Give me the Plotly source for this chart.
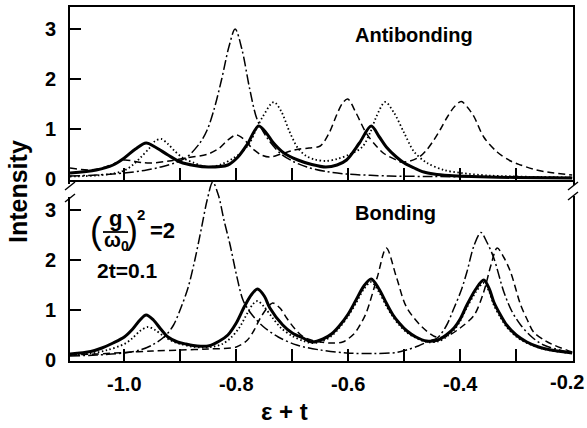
import plotly.graph_objects as go

# ---------------- data ----------------
# Antibonding panel (top)
ab_solid_x = [-1.097, -1.05, -1.02, -1.0, -0.98, -0.961, -0.945, -0.922, -0.9, -0.875, -0.85, -0.815, -0.797, -0.78,
              -0.76, -0.745, -0.735, -0.715, -0.69, -0.665, -0.64, -0.62, -0.603, -0.58, -0.559, -0.545, -0.532,
              -0.514, -0.5, -0.482, -0.465, -0.447, -0.42, -0.38, -0.3, -0.2]
ab_solid_y = [0.12, 0.18, 0.28, 0.42, 0.60, 0.72, 0.64, 0.48, 0.34, 0.27, 0.24, 0.28, 0.44, 0.70,
              1.06, 0.90, 0.74, 0.52, 0.38, 0.29, 0.24, 0.28, 0.38, 0.72, 1.06, 0.85, 0.64,
              0.44, 0.32, 0.22, 0.14, 0.10, 0.07, 0.05, 0.03, 0.02]

ab_dashed_x = [-1.097, -1.064, -1.04, -1.015, -1.0, -0.985, -0.97, -0.952, -0.92, -0.89, -0.85, -0.83, -0.815, -0.8,
               -0.787, -0.772, -0.755, -0.74, -0.72, -0.7, -0.687, -0.67, -0.65, -0.635, -0.62, -0.61, -0.601,
               -0.586, -0.568, -0.55, -0.535, -0.514, -0.505, -0.49, -0.473, -0.46, -0.447, -0.435, -0.423, -0.41,
               -0.398, -0.386, -0.375, -0.358, -0.334, -0.31, -0.292, -0.27, -0.245, -0.2]
ab_dashed_y = [0.22, 0.18, 0.22, 0.32, 0.38, 0.36, 0.33, 0.32, 0.36, 0.42, 0.50, 0.62, 0.78, 0.88,
               0.80, 0.62, 0.48, 0.44, 0.50, 0.57, 0.60, 0.62, 0.66, 0.90, 1.30, 1.52, 1.60,
               1.32, 0.92, 0.66, 0.50, 0.38, 0.34, 0.36, 0.44, 0.58, 0.78, 1.00, 1.24, 1.45,
               1.55, 1.42, 1.24, 0.84, 0.54, 0.36, 0.28, 0.20, 0.14, 0.08]

ab_dotted_x = [-1.097, -1.05, -1.02, -1.0, -0.985, -0.97, -0.955, -0.945, -0.934, -0.922, -0.91, -0.895, -0.875,
               -0.86, -0.845, -0.825, -0.805, -0.79, -0.776, -0.765, -0.753, -0.733, -0.72, -0.705, -0.69, -0.675,
               -0.66, -0.64, -0.62, -0.6, -0.575, -0.56, -0.55, -0.534, -0.518, -0.5, -0.482, -0.459, -0.429,
               -0.398, -0.35, -0.3, -0.2]
ab_dotted_y = [0.05, 0.07, 0.11, 0.17, 0.28, 0.44, 0.62, 0.76, 0.80, 0.70, 0.56, 0.42, 0.32,
               0.26, 0.24, 0.30, 0.42, 0.54, 0.72, 0.98, 1.24, 1.54, 1.36, 0.95, 0.62, 0.46,
               0.39, 0.36, 0.40, 0.48, 0.64, 0.95, 1.24, 1.54, 1.32, 0.92, 0.54, 0.32, 0.18,
               0.12, 0.07, 0.05, 0.03]

ab_dashdot_x = [-1.097, -1.05, -1.0, -0.96, -0.935, -0.91, -0.888, -0.865, -0.852, -0.84, -0.826, -0.813, -0.802,
                -0.79, -0.776, -0.763, -0.746, -0.722, -0.7, -0.674, -0.64, -0.603, -0.527, -0.45, -0.35, -0.2]
ab_dashdot_y = [0.06, 0.08, 0.12, 0.18, 0.24, 0.32, 0.44, 0.72, 0.98, 1.38, 2.0, 2.65, 3.0,
                2.6, 1.8, 1.2, 0.84, 0.52, 0.36, 0.24, 0.15, 0.10, 0.06, 0.05, 0.04, 0.03]

# Bonding panel (bottom)
bd_solid_x = [-1.097, -1.06, -1.04, -1.02, -1.0, -0.985, -0.972, -0.961, -0.948, -0.935, -0.922, -0.905, -0.89,
              -0.87, -0.85, -0.83, -0.815, -0.8, -0.785, -0.772, -0.762, -0.75, -0.74, -0.717, -0.7, -0.681,
              -0.665, -0.645, -0.63, -0.616, -0.6, -0.586, -0.572, -0.559, -0.545, -0.532, -0.52, -0.509, -0.495,
              -0.479, -0.46, -0.44, -0.425, -0.411, -0.4, -0.388, -0.372, -0.358, -0.348, -0.34, -0.328, -0.317,
              -0.3, -0.281, -0.26, -0.238, -0.2]
bd_solid_y = [0.12, 0.17, 0.24, 0.34, 0.46, 0.62, 0.80, 0.90, 0.80, 0.62, 0.46, 0.36, 0.32,
              0.28, 0.28, 0.38, 0.50, 0.74, 1.08, 1.32, 1.42, 1.28, 1.04, 0.70, 0.54, 0.44,
              0.36, 0.42, 0.52, 0.68, 0.92, 1.20, 1.48, 1.62, 1.42, 1.14, 0.90, 0.74, 0.58,
              0.46, 0.38, 0.40, 0.50, 0.64, 0.82, 1.10, 1.42, 1.60, 1.42, 1.16, 0.90, 0.70,
              0.50, 0.36, 0.26, 0.20, 0.14]

bd_dotted_x = [-1.097, -1.06, -1.03, -1.0, -0.985, -0.972, -0.958, -0.945, -0.93, -0.915, -0.9, -0.88, -0.86,
               -0.84, -0.825, -0.81, -0.795, -0.78, -0.77, -0.762, -0.75, -0.735, -0.72, -0.7, -0.68, -0.665,
               -0.645, -0.63, -0.616, -0.6, -0.586, -0.572, -0.559, -0.545, -0.532, -0.52, -0.509, -0.495, -0.479,
               -0.46, -0.44, -0.425, -0.411, -0.4, -0.388, -0.372, -0.358, -0.348, -0.34, -0.328, -0.317, -0.3,
               -0.281, -0.26, -0.238, -0.2]
bd_dotted_y = [0.10, 0.13, 0.20, 0.32, 0.44, 0.58, 0.66, 0.60, 0.48, 0.38, 0.32, 0.27, 0.25,
               0.27, 0.32, 0.44, 0.64, 0.94, 1.12, 1.18, 1.06, 0.84, 0.64, 0.48, 0.38, 0.34,
               0.38, 0.48, 0.64, 0.88, 1.14, 1.42, 1.56, 1.36, 1.08, 0.86, 0.70, 0.55, 0.44,
               0.36, 0.37, 0.46, 0.60, 0.78, 1.05, 1.36, 1.54, 1.36, 1.10, 0.85, 0.66, 0.47,
               0.34, 0.25, 0.19, 0.13]

bd_dashed_x = [-1.097, -1.05, -1.0, -0.95, -0.9, -0.85, -0.8, -0.78, -0.768, -0.758, -0.745, -0.735, -0.722,
               -0.71, -0.695, -0.68, -0.66, -0.633, -0.61, -0.59, -0.58, -0.568, -0.548, -0.532, -0.514, -0.496,
               -0.468, -0.443, -0.425, -0.4, -0.375, -0.358, -0.345, -0.334, -0.322, -0.31, -0.292, -0.28,
               -0.269, -0.25, -0.233, -0.2]
bd_dashed_y = [0.10, 0.12, 0.15, 0.18, 0.20, 0.22, 0.26, 0.40, 0.60, 0.82, 1.04, 1.14, 1.04,
               0.84, 0.62, 0.46, 0.38, 0.34, 0.36, 0.52, 0.68, 0.94, 1.66, 2.24, 1.66, 1.06,
               0.66, 0.46, 0.47, 0.64, 0.90, 1.36, 1.90, 2.24, 2.05, 1.76, 1.10, 0.80,
               0.56, 0.40, 0.30, 0.16]

bd_dashdot_x = [-1.097, -1.05, -1.0, -0.972, -0.95, -0.927, -0.912, -0.899, -0.886, -0.874, -0.862, -0.852, -0.842,
                -0.832, -0.822, -0.811, -0.8, -0.788, -0.775, -0.753, -0.725, -0.692, -0.65, -0.603, -0.555,
                -0.514, -0.496, -0.475, -0.455, -0.441, -0.425, -0.411, -0.398, -0.388, -0.375, -0.363, -0.352,
                -0.34, -0.322, -0.308, -0.292, -0.272, -0.251, -0.2]
bd_dashdot_y = [0.08, 0.10, 0.14, 0.20, 0.30, 0.48, 0.70, 1.04, 1.45, 2.0, 2.65, 3.2, 3.56,
                3.3, 2.8, 2.3, 1.72, 1.20, 0.95, 0.68, 0.46, 0.30, 0.20, 0.14, 0.13,
                0.15, 0.20, 0.28, 0.38, 0.44, 0.68, 1.04, 1.40, 1.76, 2.30, 2.55, 2.35,
                2.04, 1.36, 0.98, 0.70, 0.46, 0.30, 0.14]

x_tick_vals = [-1.0, -0.9, -0.8, -0.7, -0.6, -0.5, -0.4, -0.3, -0.2]
x_tick_text = ["-1.0", "", "-0.8", "", "-0.6", "", "-0.4", "", ""]
x_edge_label = "-0.2"
y_tick_vals = [0, 1, 2, 3]

# ---------------- figure ----------------
FONT = "Liberation Sans"
W, H = 587, 428
L, R, T, B = 70, 573, 7, 361


def xp(px):
    return (px - L) / (R - L)


def yp(py):
    return (B - py) / (B - T)


split = yp(180)

styles = {
    "solid": dict(color="black", width=3.0, dash="solid"),
    "dashed": dict(color="black", width=1.5, dash="7px,4px"),
    "dotted": dict(color="black", width=1.8, dash="1.5px,2.5px"),
    "dashdot": dict(color="black", width=1.5, dash="10px,3px,2px,3px"),
}

fig = go.Figure()


def add(xs, ys, style, xa, ya):
    fig.add_trace(go.Scatter(x=xs, y=ys, mode="lines", line=dict(**styles[style], shape="spline", smoothing=0.9),
                             xaxis=xa, yaxis=ya, showlegend=False, hoverinfo="skip"))


add(ab_dashdot_x, ab_dashdot_y, "dashdot", "x2", "y2")
add(ab_dashed_x, ab_dashed_y, "dashed", "x2", "y2")
add(ab_dotted_x, ab_dotted_y, "dotted", "x2", "y2")
add(ab_solid_x, ab_solid_y, "solid", "x2", "y2")

add(bd_dashdot_x, bd_dashdot_y, "dashdot", "x", "y")
add(bd_dashed_x, bd_dashed_y, "dashed", "x", "y")
add(bd_dotted_x, bd_dotted_y, "dotted", "x", "y")
add(bd_solid_x, bd_solid_y, "solid", "x", "y")

axis_common = dict(showgrid=False, zeroline=False, showline=True, linecolor="black", linewidth=1.6,
                   ticks="inside", tickcolor="black", tickwidth=1.6, automargin=False)
tick_font = dict(size=20, family=FONT, color="black", weight="bold")
XR = [-1.097, -0.1985]

fig.update_layout(
    width=W, height=H,
    margin=dict(l=L, r=W - R, t=T, b=H - B, pad=0, autoexpand=False),
    paper_bgcolor="white", plot_bgcolor="white",
    font=dict(family=FONT, color="black"),
    xaxis=dict(**axis_common, domain=[0, 1], range=XR, anchor="y",
               tickvals=x_tick_vals, ticktext=x_tick_text, ticklen=12,
               tickfont=tick_font, ticklabelstandoff=4, mirror=False),
    xaxis2=dict(**axis_common, domain=[0, 1], range=XR, anchor="y2", matches="x",
                tickvals=x_tick_vals, ticklen=12, showticklabels=False, mirror=True),
    yaxis=dict(**axis_common, domain=[0, split], range=[-0.02, 3.6], anchor="x",
               tickvals=y_tick_vals, ticklen=11, tickfont=tick_font,
               ticklabelstandoff=8, mirror=True),
    yaxis2=dict(**axis_common, domain=[split, 1], range=[-0.02, 3.44], anchor="x2",
                tickvals=y_tick_vals, ticklen=11, tickfont=tick_font,
                ticklabelstandoff=8, mirror=True),
)

ann = []


def text(s, px, py, size, bold=True, **kw):
    ann.append(dict(text=s, x=xp(px), y=yp(py), xref="paper", yref="paper", showarrow=False,
                    font=dict(size=size, family=FONT, color="black", weight="bold" if bold else "normal"),
                    xanchor=kw.get("xanchor", "center"),
                    yanchor=kw.get("yanchor", "middle"), textangle=kw.get("angle", 0)))


text("Antibonding", 414, 35, 20)
text("Bonding", 395, 213, 20)
text("(", 96, 231, 36, bold=False)
text("g", 115, 218, 22)
text("ω<sub>0</sub>", 116, 242, 20)
text(")", 132, 231, 36, bold=False)
text("2", 141, 214, 15)
text("=2", 162, 230, 22)
text("2t=0.1", 127, 270, 21)
text("Intensity", 18, 192, 25, angle=-90)
text("ε + t", 284, 411, 24)
text(x_edge_label, 586, 382, 20, xanchor="right")
fig.update_layout(annotations=ann)

shapes = [
    # fraction bar
    dict(type="line", xref="paper", yref="paper", x0=xp(103), x1=xp(128), y0=yp(232), y1=yp(232),
         line=dict(color="black", width=1.8)),
    # axis break gaps and marks (left and right)
    dict(type="rect", xref="paper", yref="paper", x0=xp(65), x1=xp(75), y0=yp(184), y1=yp(197),
         fillcolor="white", line=dict(width=0), layer="above"),
    dict(type="rect", xref="paper", yref="paper", x0=xp(568), x1=xp(578), y0=yp(185), y1=yp(196),
         fillcolor="white", line=dict(width=0), layer="above"),
    dict(type="line", xref="paper", yref="paper", x0=xp(65), x1=xp(75), y0=yp(190), y1=yp(182),
         line=dict(color="black", width=1.5)),
    dict(type="line", xref="paper", yref="paper", x0=xp(65), x1=xp(75), y0=yp(202), y1=yp(194),
         line=dict(color="black", width=1.5)),
    dict(type="line", xref="paper", yref="paper", x0=xp(568), x1=xp(578), y0=yp(190), y1=yp(182),
         line=dict(color="black", width=1.5)),
    dict(type="line", xref="paper", yref="paper", x0=xp(568), x1=xp(578), y0=yp(200), y1=yp(192),
         line=dict(color="black", width=1.5)),
]
fig.update_layout(shapes=shapes)

fig.write_html("out.html")
